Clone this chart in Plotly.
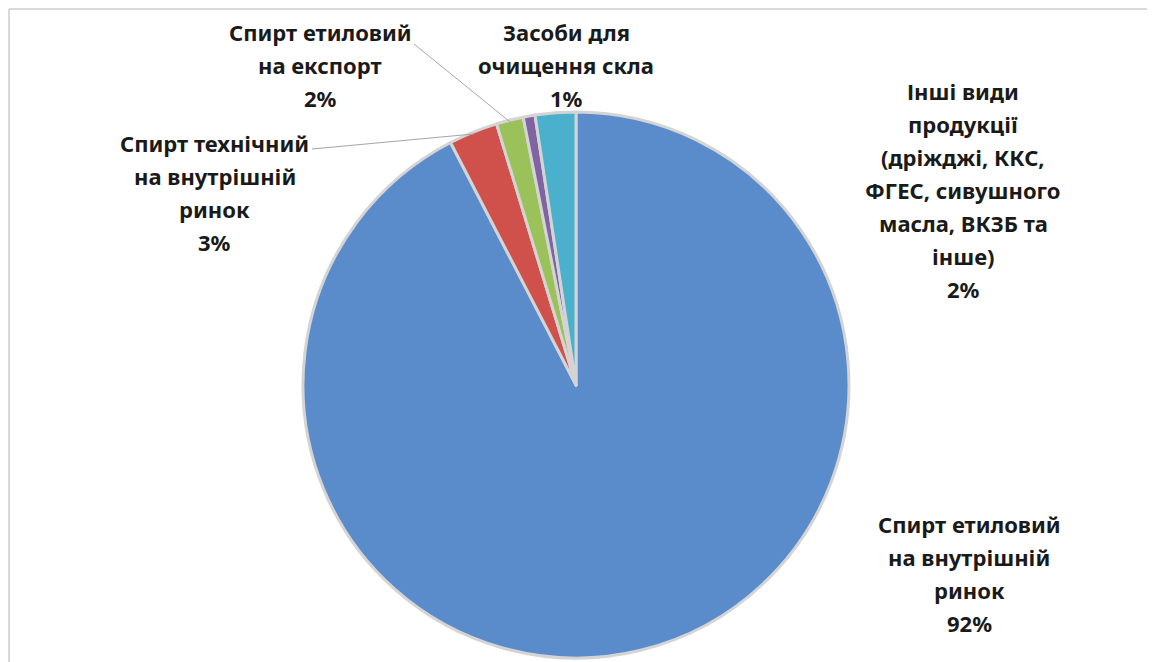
import math
import plotly.graph_objects as go

# ---- data ----
categories = [
    "Спирт етиловий<br>на внутрішній<br>ринок",
    "Спирт технічний<br>на внутрішній<br>ринок",
    "Спирт етиловий<br>на експорт",
    "Засоби для<br>очищення скла",
    "Інші види<br>продукції<br>(дріжджі, ККС,<br>ФГЕС, сивушного<br>масла, ВКЗБ та<br>інше)",
]
shares = [92.4, 2.9, 1.6, 0.7, 2.4]
colors = ["#5A8BCB", "#D0504C", "#9BC15A", "#8064A2", "#4BB0CC"]

# ---- layout helpers (screen pixels; page body has an 8px margin) ----
OFF = 8
W, H = 1155 - OFF, 662 - OFF
CX, CY, R = 576, 385, 273
label_x = [969, 215, 320, 566, 963]
label_top = [524, 143, 32, 32, 91]
line_step = 33
leader_from = {1: (312, 149), 2: (414, 44)}

def px(x):
    return (x - OFF) / W

def py(y):
    return 1 - (y - OFF) / H

fig = go.Figure()
fig.add_trace(go.Pie(
    labels=categories,
    values=shares,
    sort=False,
    direction="clockwise",
    rotation=0,
    marker=dict(colors=colors, line=dict(color="#D4D4D4", width=3)),
    textinfo="none",
    hoverinfo="label+percent",
    showlegend=False,
    domain=dict(x=[px(CX - R), px(CX + R)], y=[py(CY + R), py(CY - R)]),
))

total = sum(shares)
annotations = []
shapes = []
cum = 0.0
for i, (lab, v) in enumerate(zip(categories, shares)):
    pct = round(100 * v / total)
    lines = lab.split("<br>") + [f"{pct}%"]
    for k, t in enumerate(lines):
        annotations.append(dict(
            x=px(label_x[i]), y=py(label_top[i] + k * line_step),
            xref="paper", yref="paper", text=f"<b>{t}</b>", showarrow=False,
            xanchor="center", yanchor="middle",
            font=dict(family="Noto Sans, Open Sans, sans-serif", size=22, color="#1A1A1A"),
        ))
    if i in leader_from:
        theta = 2 * math.pi * (cum + v / 2) / total
        ex = CX + (R - 2) * math.sin(theta)
        ey = CY - (R - 2) * math.cos(theta)
        sx, sy = leader_from[i]
        shapes.append(dict(type="line", xref="paper", yref="paper",
                           x0=px(sx), y0=py(sy), x1=px(ex), y1=py(ey),
                           line=dict(color="#A6A6A6", width=1)))
    cum += v

# frame lines (top and left)
shapes.append(dict(type="line", xref="paper", yref="paper", x0=px(9), y0=py(9), x1=1, y1=py(9),
                   line=dict(color="#D9D9D9", width=2)))
shapes.append(dict(type="line", xref="paper", yref="paper", x0=px(9), y0=py(9), x1=px(9), y1=0,
                   line=dict(color="#D9D9D9", width=2)))

fig.update_layout(
    width=W, height=H,
    margin=dict(l=0, r=0, t=0, b=0),
    paper_bgcolor="white", plot_bgcolor="white",
    annotations=annotations, shapes=shapes,
)
fig.write_html("out.html")
